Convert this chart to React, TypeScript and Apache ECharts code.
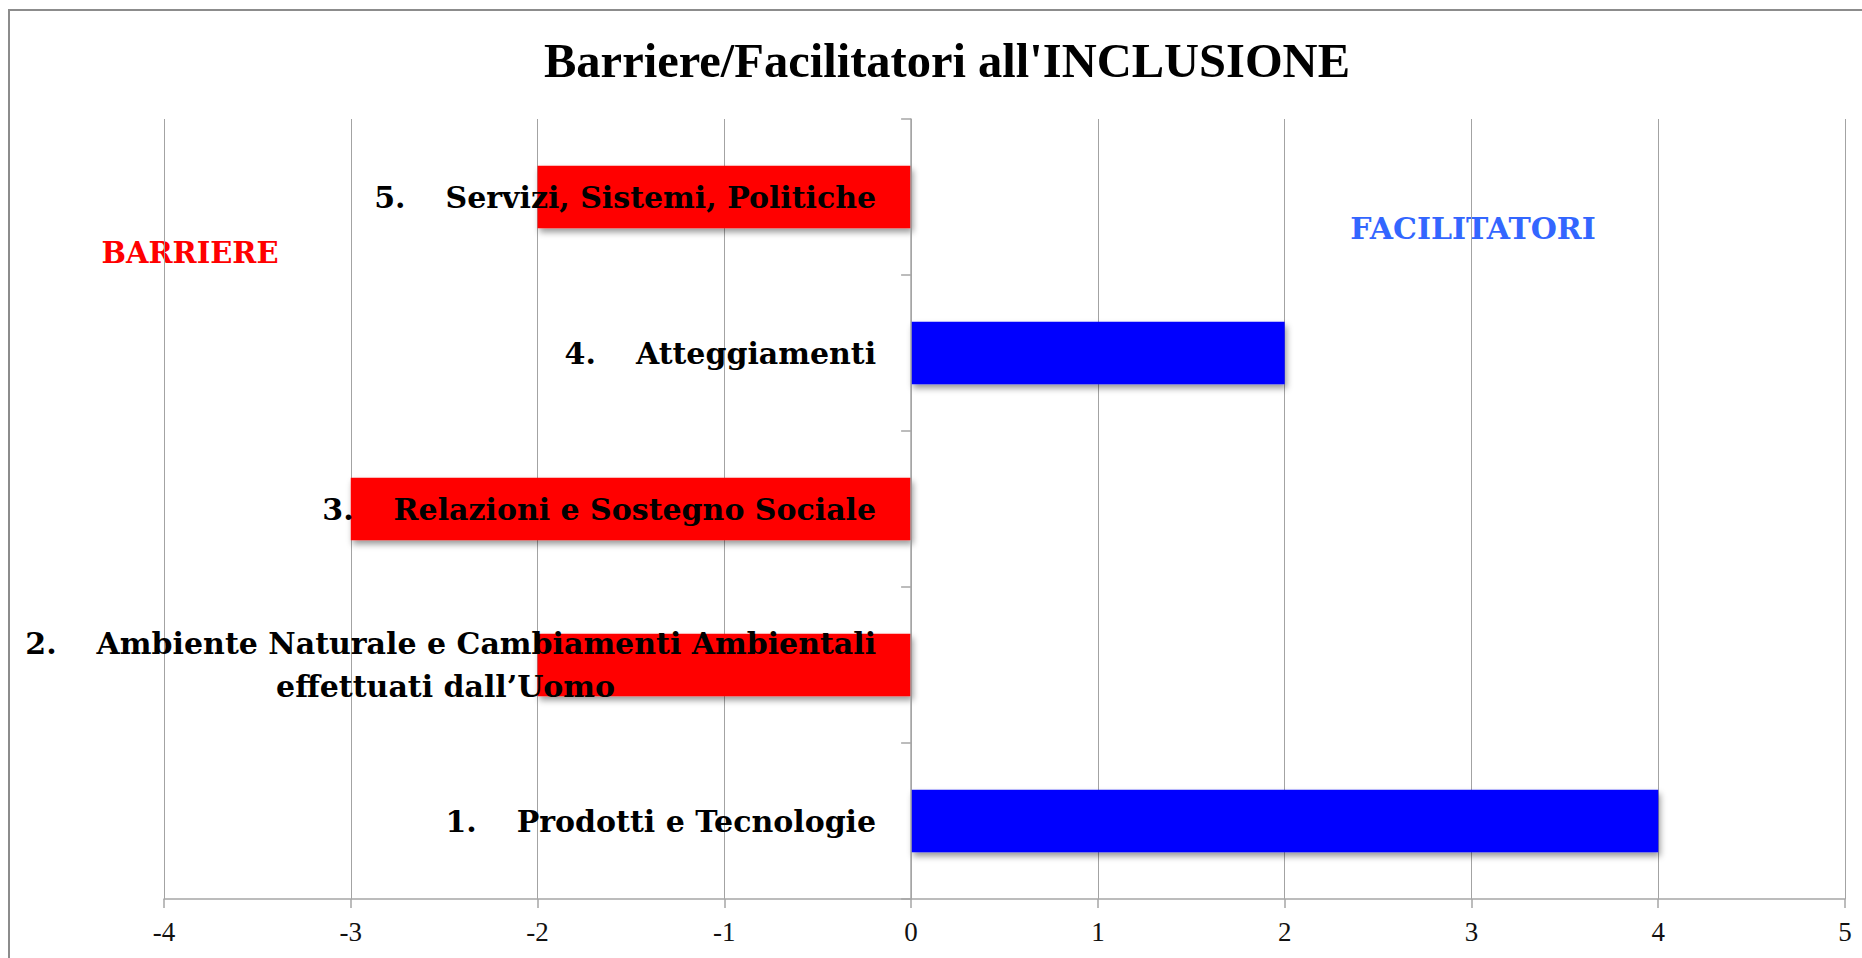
import React, { useEffect, useRef } from 'react';
import * as echarts from 'echarts';

const chartTitle = "Barriere/Facilitatori all'INCLUSIONE";
const itemNumbers = ['1.', '2.', '3.', '4.', '5.'];
const itemNames = [
  'Prodotti e Tecnologie',
  'Ambiente Naturale e Cambiamenti Ambientali\neffettuati dall\u2019Uomo',
  'Relazioni e Sostegno Sociale',
  'Atteggiamenti',
  'Servizi, Sistemi, Politiche',
];
const values = [4, -2, -3, 2, -2];
const xMin = -4;
const xMax = 5;
const xStep = 1;
const leftNote = 'BARRIERE';
const rightNote = 'FACILITATORI';

const SERIF_BOLD = "'DejaVu Serif', serif";
const W = 1862;
const H = 958;
const GRID_LEFT = 164;
const GRID_RIGHT = 17;

export default function App() {
  const ref = useRef<HTMLDivElement>(null);
  useEffect(() => {
    document.body.style.margin = '0';
    const chart = echarts.init(ref.current!, undefined, { renderer: 'svg' });
    const gridWidth = W - GRID_LEFT - GRID_RIGHT;
    const zeroOffset = (gridWidth * (0 - xMin)) / (xMax - xMin);
    const option: any = {
      animation: false,
      backgroundColor: '#ffffff',
      grid: {
        left: GRID_LEFT,
        right: GRID_RIGHT,
        top: 119,
        bottom: 59,
        containLabel: false,
        outerBoundsMode: 'none',
      },
      xAxis: {
        type: 'value',
        min: xMin,
        max: xMax,
        interval: xStep,
        axisLine: { show: true, onZero: false, lineStyle: { color: '#a6a6a6', width: 1.5 } },
        axisTick: { show: true, length: 9, lineStyle: { color: '#a6a6a6', width: 1.5 } },
        splitLine: { show: true, lineStyle: { color: '#a3a3a3', width: 1 } },
        axisLabel: {
          margin: 19,
          color: '#111',
          fontFamily: "'Liberation Serif', serif",
          fontSize: 27,
        },
      },
      yAxis: {
        type: 'category',
        data: itemNumbers,
        z: 5,
        offset: -zeroOffset,
        axisLine: { show: true, onZero: false, lineStyle: { color: '#a6a6a6', width: 1.5 } },
        axisTick: { show: true, length: 10, lineStyle: { color: '#a6a6a6', width: 1.5 } },
        splitLine: { show: false },
        axisLabel: {
          interval: 0,
          margin: 35,
          align: 'right',
          hideOverlap: false,
          formatter: (val: string, idx: number) => {
            const lines = itemNames[idx].split('\n');
            return lines
              .map((ln, i) =>
                i === 0 ? `{n|${val}}{g| }{t|${ln}}` : `{t|${ln}}{w| }`
              )
              .join('\n');
          },
          rich: {
            n: { fontFamily: SERIF_BOLD, fontWeight: 'bold', fontSize: 30, color: '#000', lineHeight: 43 },
            g: { width: 40, fontSize: 30, lineHeight: 43 },
            t: { fontFamily: SERIF_BOLD, fontWeight: 'bold', fontSize: 30, color: '#000', lineHeight: 43 },
            w: { width: 261, fontSize: 30, lineHeight: 43 },
          },
        },
      },
      series: [
        {
          type: 'bar',
          barWidth: '40%',
          data: values.map((v) => ({
            value: v,
            itemStyle: { color: v < 0 ? '#ff0000' : '#0000ff' },
          })),
          itemStyle: {
            shadowBlur: 6,
            shadowColor: 'rgba(0,0,0,0.4)',
            shadowOffsetX: 2,
            shadowOffsetY: 4,
          },
        },
      ],
      graphic: [
        {
          type: 'rect',
          silent: true,
          shape: { x: 9, y: 10, width: 1900, height: 1000 },
          style: { fill: 'none', stroke: '#8c8c8c', lineWidth: 2 },
        },
        {
          type: 'text',
          x: 947,
          y: 60,
          style: {
            text: chartTitle,
            fontFamily: "'Liberation Serif', serif",
            fontWeight: 'bold',
            fontSize: 48.5,
            fill: '#000',
            align: 'center',
            verticalAlign: 'middle',
          },
        },
        {
          type: 'text',
          x: 190,
          y: 253,
          style: {
            text: leftNote,
            fontFamily: SERIF_BOLD,
            fontWeight: 'bold',
            fontSize: 29,
            fill: '#ff0000',
            align: 'center',
            verticalAlign: 'middle',
          },
        },
        {
          type: 'text',
          x: 1473,
          y: 228,
          style: {
            text: rightNote,
            fontFamily: SERIF_BOLD,
            fontWeight: 'bold',
            fontSize: 30,
            fill: '#3366ff',
            align: 'center',
            verticalAlign: 'middle',
          },
        },
      ],
    };
    chart.setOption(option);
    return () => chart.dispose();
  }, []);
  return <div ref={ref} style={{ width: W, height: H }} />;
}
